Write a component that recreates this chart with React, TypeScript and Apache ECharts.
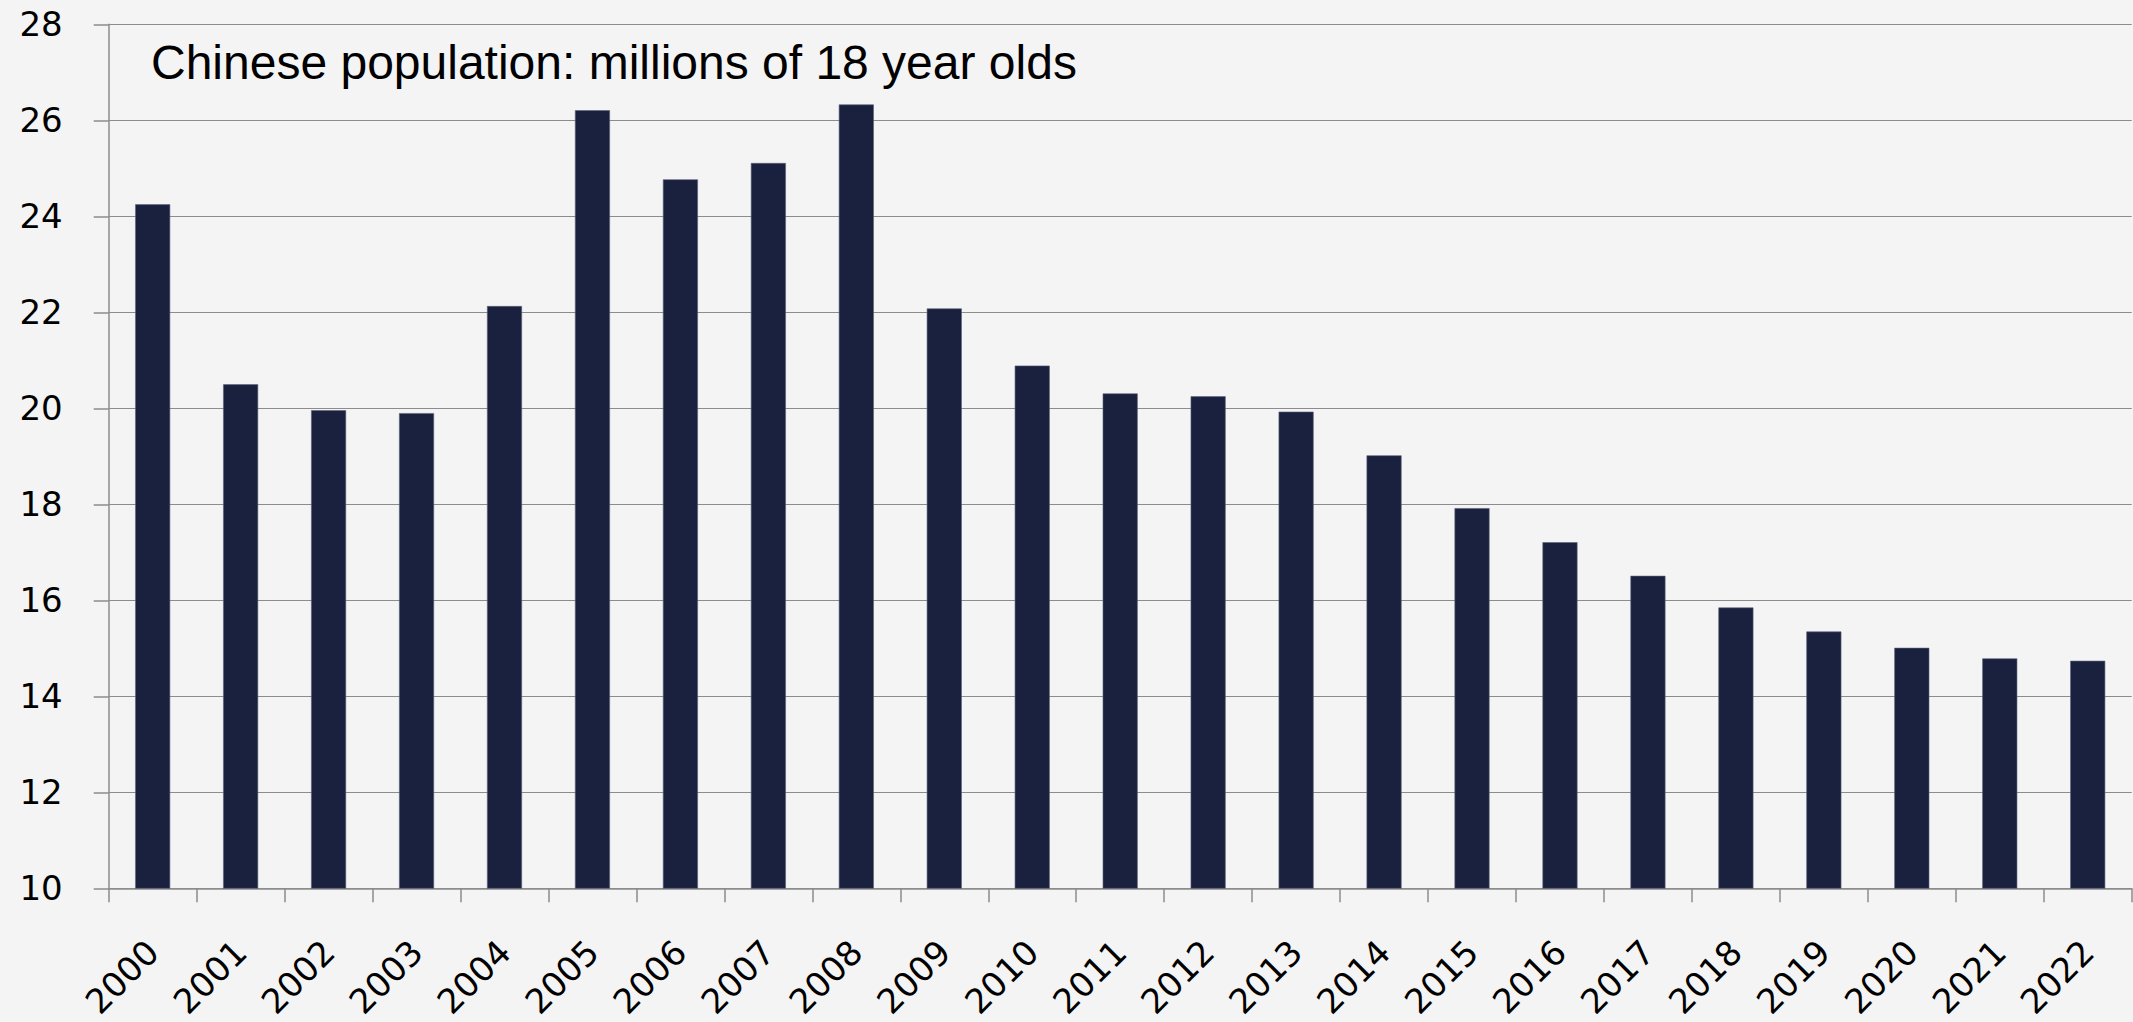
import React, { useEffect, useRef } from "react";
import * as echarts from "echarts";

const years = [
  "2000", "2001", "2002", "2003", "2004", "2005", "2006", "2007", "2008", "2009",
  "2010", "2011", "2012", "2013", "2014", "2015", "2016", "2017", "2018", "2019",
  "2020", "2021", "2022",
];

const eighteenYearOlds = [
  24.25, 20.5, 19.96, 19.9, 22.13, 26.21, 24.77, 25.11, 26.33, 22.08,
  20.89, 20.31, 20.25, 19.93, 19.02, 17.92, 17.21, 16.51, 15.85, 15.35,
  15.01, 14.79, 14.74,
];

const titleText = "Chinese population: millions of 18 year olds";
const yMin = 10;
const yMax = 28;
const yStep = 2;

export default function App() {
  const ref = useRef<HTMLDivElement>(null);

  useEffect(() => {
    if (!ref.current) return;
    const chart = echarts.init(ref.current, null, { renderer: "svg" });
    const labelFont = "DejaVu Sans";
    chart.setOption({
      animation: false,
      backgroundColor: "#f4f4f4",
      grid: { left: 108.7, right: 1.3, top: 24.3, bottom: 133.7, containLabel: false },
      graphic: [
        {
          type: "text",
          left: 151,
          top: 38,
          style: {
            text: titleText,
            fontSize: 48,
            fontFamily: "Liberation Sans",
            fill: "#000000",
          },
        },
      ],
      xAxis: {
        type: "category",
        data: years,
        boundaryGap: true,
        axisLine: { show: true, lineStyle: { color: "#8c8c8c", width: 1.5 } },
        axisTick: { show: true, alignWithLabel: false, length: 14, lineStyle: { color: "#8c8c8c", width: 1.5 } },
        axisLabel: {
          rotate: 45,
          interval: 0,
          margin: 58,
          fontSize: 34,
          fontFamily: labelFont,
          color: "#000000",
        },
        splitLine: { show: false },
      },
      yAxis: {
        type: "value",
        min: yMin,
        max: yMax,
        interval: yStep,
        axisLine: { show: true, lineStyle: { color: "#8c8c8c", width: 1.5 } },
        axisTick: { show: true, length: 15, lineStyle: { color: "#8c8c8c", width: 1.5 } },
        axisLabel: {
          margin: 46,
          fontSize: 34,
          fontFamily: labelFont,
          color: "#000000",
        },
        splitLine: { show: true, lineStyle: { color: "#8c8c8c", width: 1.2 } },
      },
      series: [
        {
          type: "bar",
          data: eighteenYearOlds,
          barWidth: 35,
          itemStyle: { color: "#1a213f", borderColor: "#5c6278", borderWidth: 0.6 },
        },
      ],
    });
    return () => chart.dispose();
  }, []);

  return (
    <div
      ref={ref}
      style={{ position: "fixed", left: 0, top: 0, width: 2133, height: 1022 }}
    />
  );
}
